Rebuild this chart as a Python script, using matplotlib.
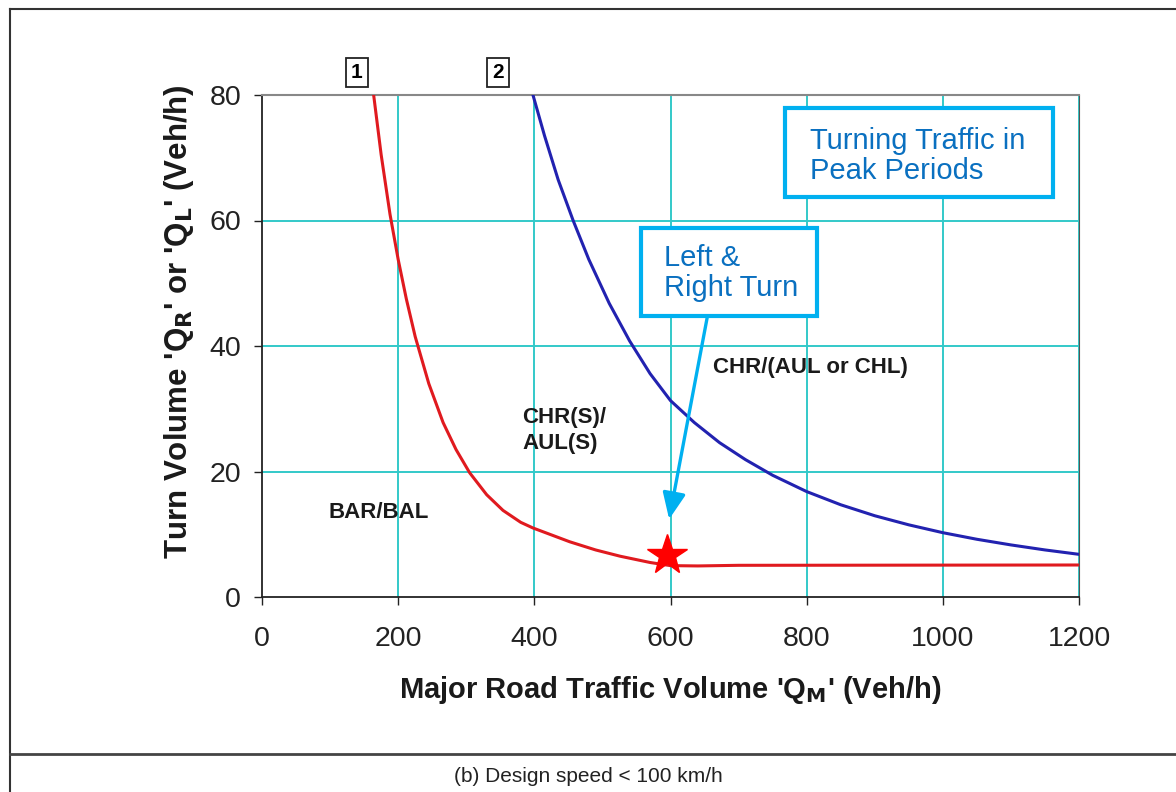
import matplotlib
matplotlib.use('Agg')
import matplotlib.pyplot as plt
from matplotlib.lines import Line2D
from matplotlib.patches import Rectangle

plt.rcParams['font.family'] = ['Liberation Sans', 'DejaVu Sans']

# curve 1 (red) and curve 2 (blue)
red_x = [164, 175, 188, 200, 212, 225, 245, 266, 285, 305, 330, 354, 380, 398,
         425, 452, 490, 526, 570, 600, 640, 700, 1200]
red_y = [80, 70.5, 61, 53.8, 47.5, 41.5, 34, 27.8, 23.5, 19.8, 16.3, 13.8, 11.9, 11.0,
         9.9, 8.8, 7.5, 6.5, 5.5, 5.0, 4.95, 5.05, 5.1]
blue_x = [398, 415, 435, 457, 480, 510, 540, 570, 600, 635, 672, 710, 750, 800,
          850, 900, 950, 1000, 1050, 1100, 1150, 1200]
blue_y = [80, 73.5, 66.5, 60, 53.8, 46.8, 40.8, 35.6, 31.3, 27.8, 24.6, 21.9, 19.4, 16.8,
          14.7, 12.95, 11.5, 10.25, 9.2, 8.3, 7.5, 6.8]
star_pt = (595, 6.7)
x_ticks = [0, 200, 400, 600, 800, 1000, 1200]
y_ticks = [0, 20, 40, 60, 80]

fig = plt.figure(figsize=(11.76, 7.92), dpi=100)
fig.patch.set_facecolor('white')
ax = fig.add_axes([262/1176, 1-597/792, (1079-262)/1176, (597-95)/792])

grid_c = '#33c9c9'
for gx in x_ticks[1:]:
    ax.axvline(gx, color=grid_c, lw=1.4, zorder=1)
for gy in y_ticks[1:-1]:
    ax.axhline(gy, color=grid_c, lw=1.4, zorder=1)

ax.plot(red_x, red_y, color='#e01a1f', lw=2.2, zorder=3, solid_joinstyle='round')
ax.plot(blue_x, blue_y, color='#2222b0', lw=2.2, zorder=3, solid_joinstyle='round')
ax.plot(*star_pt, marker='*', color='#ff0000', markersize=30, zorder=5)

ax.set_xlim(0, 1200)
ax.set_ylim(0, 80)
ax.set_xticks(x_ticks)
ax.set_yticks(y_ticks)
ax.tick_params(direction='out', length=6, width=1, labelsize=20.5, colors='#222222')
ax.tick_params(axis='x', pad=15)
ax.tick_params(axis='y', pad=9)
for s in ['left', 'bottom']:
    ax.spines[s].set_color('#222222')
    ax.spines[s].set_linewidth(1.3)
ax.spines['top'].set_color('#888888')
ax.spines['top'].set_linewidth(1.5)
ax.spines['right'].set_color('#555555')

ax.set_xlabel("Major Road Traffic Volume 'Q$_\\mathbf{M}$' (Veh/h)", fontsize=21,
              fontweight='bold', color='#1a1a1a', labelpad=16)
ax.set_ylabel("Turn Volume 'Q$_\\mathbf{R}$' or 'Q$_\\mathbf{L}$' (Veh/h)", fontsize=22.5,
              fontweight='bold', color='#1a1a1a')
ax.yaxis.set_label_coords(-0.081, 0.548)

lab = dict(fontsize=16, fontweight='bold', color='#1a1a1a', zorder=4)
ax.text(97, 13.5, 'BAR/BAL', va='center', **lab)
ax.text(382, 26.5, 'CHR(S)/\nAUL(S)', va='center', linespacing=1.3, **lab)
ax.text(662, 36.5, 'CHR/(AUL or CHL)', va='center', **lab)

numbox = dict(boxstyle='square,pad=0.25', fc='white', ec='#222222', lw=1.3)
ax.text(139.5, 83.6, '1', ha='center', va='center', fontsize=15, fontweight='bold',
        bbox=numbox, clip_on=False)
ax.text(346.5, 83.6, '2', ha='center', va='center', fontsize=15, fontweight='bold',
        bbox=numbox, clip_on=False)

# callout boxes
box_c = '#00b0f0'
ax.add_patch(Rectangle((768, 63.7), 393.5, 14.2, fc='white', ec=box_c, lw=3, zorder=6))
ax.text(805, 70.3, 'Turning Traffic in\nPeak Periods', fontsize=21, color='#0a70c0',
        va='center', ha='left', linespacing=1.1, zorder=7)
ax.add_patch(Rectangle((556.5, 44.8), 258.5, 14.0, fc='white', ec=box_c, lw=3, zorder=6))
ax.text(590, 51.6, 'Left &\nRight Turn', fontsize=21, color='#0a70c0',
        va='center', ha='left', linespacing=1.1, zorder=7)
ax.annotate('', xy=(598, 12.4), xytext=(654, 44.6),
            arrowprops=dict(arrowstyle='-|>,head_length=1.6,head_width=0.7',
                            color=box_c, lw=2.4, shrinkA=0, shrinkB=0), zorder=5)

# page frame lines and caption
fig.add_artist(Line2D([10/1176, 1], [1-9/792, 1-9/792], color='#333333', lw=1.5))
fig.add_artist(Line2D([10/1176, 10/1176], [0, 1-9/792], color='#333333', lw=1.5))
fig.add_artist(Line2D([10/1176, 1], [1-754/792, 1-754/792], color='#444444', lw=2))
fig.text(588/1176, 1-776/792, '(b) Design speed < 100 km/h', ha='center', va='center',
         fontsize=15, family=['Liberation Sans Narrow', 'Liberation Sans'], color='#222222')

fig.savefig('out.png', dpi=100)
